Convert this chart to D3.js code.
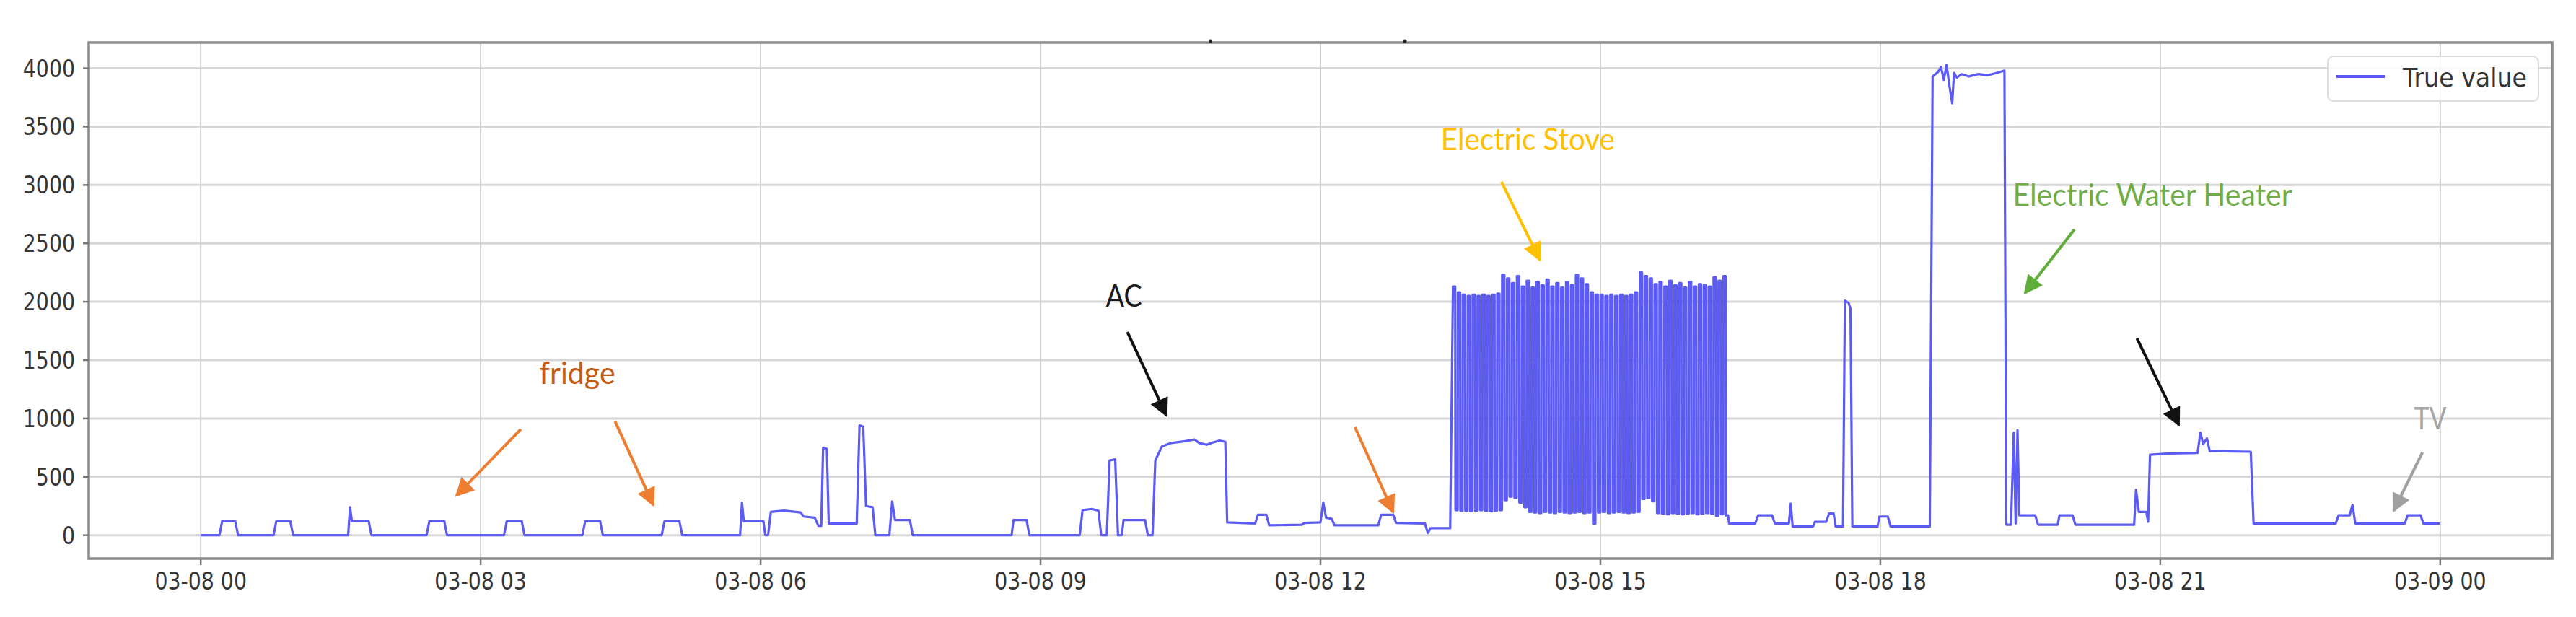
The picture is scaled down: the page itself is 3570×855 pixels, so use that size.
<!DOCTYPE html>
<html>
<head>
<meta charset="utf-8">
<title>True value</title>
<script src="https://d3js.org/d3.v7.min.js"></script>
<style>
  body { margin: 0; background: #fff; }
  .lbl { font-family: "DejaVu Sans", sans-serif; font-size: 33px; fill: #353535; }
  .note { font-family: Lato, "Open Sans", sans-serif; font-size: 42px; }
</style>
</head>
<body>
<svg id="chart" width="3570" height="855"></svg>
<script>
// breakpoints: hours after 03-08 00:00, power in W
var hours = [
  0.00, 0.20, 0.23, 0.37, 0.40, 0.78, 0.81, 0.96, 0.99, 1.58, 1.60, 1.62, 1.80, 1.83,
  2.42, 2.45, 2.61, 2.64, 3.25, 3.28, 3.44, 3.47, 4.09, 4.12, 4.28, 4.31, 4.94, 4.97,
  5.13, 5.16, 5.78, 5.80, 5.82, 6.03, 6.05, 6.08, 6.11, 6.25, 6.43, 6.46, 6.58, 6.62,
  6.65, 6.67, 6.71, 6.73, 7.00, 7.03, 7.06, 7.10, 7.13, 7.20, 7.23, 7.38, 7.41, 7.44,
  7.60, 7.63, 8.69, 8.71, 8.85, 8.88, 9.42, 9.45, 9.55, 9.62, 9.65, 9.71, 9.74, 9.80,
  9.83, 9.87, 9.89, 10.12, 10.15, 10.20, 10.23, 10.30, 10.40, 10.55, 10.65, 10.70, 10.78, 10.85,
  10.92, 10.98, 11.00, 11.30, 11.33, 11.42, 11.45, 11.80, 11.83, 12.00, 12.03, 12.06, 12.12, 12.15,
  12.62, 12.65, 12.78, 12.81, 13.12, 13.15, 13.18, 13.30, 13.39,
  16.38, 16.66, 16.69, 16.84, 16.87, 17.02, 17.04, 17.06, 17.28, 17.30, 17.42, 17.45, 17.50, 17.52,
  17.60, 17.62, 17.66, 17.68, 17.70, 17.97, 17.99, 18.08, 18.11, 18.53, 18.56, 18.62, 18.65, 18.68,
  18.71, 18.74, 18.77, 18.79, 18.82, 18.87, 18.95, 19.05, 19.15, 19.25, 19.33, 19.35, 19.40, 19.43,
  19.45, 19.47, 19.49, 19.51, 19.66, 19.69, 19.90, 19.92, 20.06, 20.09, 20.72, 20.74, 20.77, 20.85,
  20.87, 20.89, 21.10, 21.40, 21.43, 21.46, 21.50, 21.53, 21.97, 22.00, 22.88, 22.91, 23.03, 23.06,
  23.09, 23.62, 23.65, 23.79, 23.82, 24.00
];
var watts = [
  0, 0, 120, 120, 0, 0, 120, 120, 0, 0, 240, 120, 120, 0,
  0, 120, 120, 0, 0, 120, 120, 0, 0, 120, 120, 0, 0, 120,
  120, 0, 0, 280, 120, 120, 0, 0, 200, 210, 195, 160, 150, 80,
  80, 750, 740, 100, 100, 100, 940, 930, 250, 240, 0, 0, 290, 130,
  130, 0, 0, 130, 130, 0, 0, 215, 225, 210, 0, 0, 640, 650,
  0, 0, 130, 130, 0, 0, 640, 760, 790, 805, 820, 790, 775, 795,
  810, 800, 110, 100, 175, 175, 85, 90, 105, 110, 280, 150, 140, 85,
  85, 175, 175, 105, 100, 20, 60, 60, 60,
  100, 100, 170, 170, 100, 100, 270, 75, 75, 115, 115, 185, 185, 75,
  75, 2010, 1990, 1940, 75, 75, 160, 160, 75, 75, 3930, 3970, 4010, 3900,
  4030, 3850, 3700, 3960, 3920, 3950, 3930, 3950, 3940, 3960, 3980, 90, 90, 880,
  100, 900, 170, 170, 170, 90, 90, 170, 170, 90, 90, 390, 200, 200,
  115, 690, 700, 705, 880, 780, 830, 720, 715, 100, 100, 170, 170, 260,
  100, 100, 170, 170, 100, 100
];

// electric stove on/off cycling, one high and one low per cycle
var stoveStart = 13.42;
var stoveStep = 0.0527;
var stoveHigh = [
  2130, 2080, 2060, 2050, 2060, 2050, 2060, 2050, 2060, 2070,
  2230, 2200, 2160, 2220, 2130, 2180, 2120, 2170, 2140, 2190,
  2130, 2160, 2120, 2170, 2140, 2230, 2200, 2150, 2080, 2060,
  2060, 2050, 2060, 2050, 2060, 2050, 2060, 2080, 2250, 2220,
  2200, 2150, 2170, 2130, 2180, 2140, 2160, 2120, 2170, 2130,
  2150, 2140, 2130, 2210, 2180, 2220
];
var stoveLow = [
  215, 210, 210, 205, 210, 215, 210, 205, 210, 215,
  300, 330, 320, 280, 240, 200, 195, 190, 200, 195,
  190, 200, 195, 190, 195, 200, 190, 195, 100, 195,
  200, 190, 195, 200, 195, 190, 195, 200, 310, 320,
  290, 190, 185, 180, 190, 185, 180, 185, 190, 180,
  185, 190, 185, 165, 180, 170
];

var yTicks = [0, 500, 1000, 1500, 2000, 2500, 3000, 3500, 4000];
var seriesName = "True value";

// annotations, anchored in data units (hour, W)
var notes = [
  { text: "fridge", color: "#c55a11", h: 3.63, w: 1296, len: 105 },
  { text: "AC", color: "#1a1a1a", h: 9.70, w: 1957, len: 50 },
  { text: "Electric Stove", color: "#ffc000", h: 13.29, w: 3299, len: 241 },
  { text: "Electric Water Heater", color: "#70ad47", h: 19.42, w: 2823, len: 387 },
  { text: "TV", color: "#a5a5a5", h: 23.72, w: 907, len: 45 }
];
var arrows = [
  { color: "#ed7d31", h1: 3.43, w1: 907, h2: 2.74, w2: 338 },
  { color: "#ed7d31", h1: 4.44, w1: 975, h2: 4.85, w2: 258 },
  { color: "#ed7d31", h1: 12.37, w1: 925, h2: 12.78, w2: 196 },
  { color: "#111111", h1: 9.93, w1: 1741, h2: 10.35, w2: 1024 },
  { color: "#ffc000", h1: 13.94, w1: 3027, h2: 14.35, w2: 2359 },
  { color: "#5fae3a", h1: 20.08, w1: 2619, h2: 19.55, w2: 2075 },
  { color: "#111111", h1: 20.75, w1: 1686, h2: 21.20, w2: 944 },
  { color: "#a0a0a0", h1: 23.81, w1: 709, h2: 23.50, w2: 208 }
];

var svg = d3.select("#chart");
var lineColor = "#5c5cf4";
var day0 = new Date(2018, 2, 8, 0, 0);
function at(h) { return new Date(day0.getTime() + h * 3600e3); }

var x = d3.scaleTime()
  .domain([at(-1.2), at(25.2)])
  .range([123, 3537]);
var y = d3.scaleLinear()
  .domain([-200, 4220])
  .range([774, 59]);

// build the series
var pts = hours.map(function(h, i) { return [h, watts[i]]; });
stoveHigh.forEach(function(v, i) {
  var t = stoveStart + i * stoveStep;
  pts.push([t, v], [t + stoveStep * 0.45, v],
           [t + stoveStep * 0.5, stoveLow[i]], [t + stoveStep * 0.95, stoveLow[i]]);
});
pts.sort(function(a, b) { return a[0] - b[0]; });

// grid
var xt = x.ticks(d3.timeHour.every(3));
svg.append("g").selectAll("line").data(yTicks).enter().append("line")
  .attr("x1", 123).attr("x2", 3537)
  .attr("y1", function(d) { return y(d); }).attr("y2", function(d) { return y(d); })
  .attr("stroke", "#d6d6d6").attr("stroke-width", 3);
svg.append("g").selectAll("line").data(xt).enter().append("line")
  .attr("x1", function(d) { return x(d); }).attr("x2", function(d) { return x(d); })
  .attr("y1", 59).attr("y2", 774)
  .attr("stroke", "#cccccc").attr("stroke-width", 1.8);

// line
var line = d3.line()
  .x(function(d) { return x(at(d[0])); })
  .y(function(d) { return y(d[1]); });
svg.append("path")
  .datum(pts)
  .attr("d", line)
  .attr("fill", "none")
  .attr("stroke", lineColor)
  .attr("stroke-width", 3.2)
  .attr("stroke-linejoin", "round");

// frame
svg.append("rect")
  .attr("x", 123).attr("y", 59).attr("width", 3414).attr("height", 715)
  .attr("fill", "none").attr("stroke", "#8a8a8a").attr("stroke-width", 3.5);

// ticks + labels
var yAx = svg.append("g").selectAll("g").data(yTicks).enter().append("g")
  .attr("transform", function(d) { return "translate(0," + y(d) + ")"; });
yAx.append("line").attr("x1", 115).attr("x2", 123).attr("stroke", "#777").attr("stroke-width", 2.5);
yAx.append("text").attr("class", "lbl")
  .attr("transform", "translate(104,12) scale(0.86,1)")
  .attr("text-anchor", "end")
  .text(function(d) { return d; });

var fmt = d3.timeFormat("%m-%d %H");
var xAx = svg.append("g").selectAll("g").data(xt).enter().append("g")
  .attr("transform", function(d) { return "translate(" + x(d) + ",0)"; });
xAx.append("line").attr("y1", 774).attr("y2", 783).attr("stroke", "#777").attr("stroke-width", 2.5);
xAx.append("text").attr("class", "lbl")
  .attr("transform", "translate(0,817) scale(0.86,1)")
  .attr("text-anchor", "middle")
  .text(fmt);

// legend
var lg = svg.append("g");
lg.append("rect").attr("x", 3226).attr("y", 78).attr("width", 292).attr("height", 62)
  .attr("rx", 8).attr("fill", "#fff").attr("fill-opacity", 0.85)
  .attr("stroke", "#dddddd").attr("stroke-width", 2);
lg.append("line").attr("x1", 3238).attr("x2", 3305).attr("y1", 106).attr("y2", 106)
  .attr("stroke", lineColor).attr("stroke-width", 4);
lg.append("text").attr("class", "lbl").attr("x", 3330).attr("y", 120)
  .style("font-size", "35px").attr("textLength", 172).attr("lengthAdjust", "spacingAndGlyphs")
  .text(seriesName);

// annotations
var defs = svg.append("defs");
arrows.forEach(function(a, i) {
  defs.append("marker").attr("id", "ah" + i)
    .attr("viewBox", "0 0 10 10").attr("refX", 9).attr("refY", 5)
    .attr("markerUnits", "userSpaceOnUse")
    .attr("markerWidth", 28).attr("markerHeight", 26)
    .attr("orient", "auto")
    .append("path").attr("d", "M0,0 L10,5 L0,10 z").attr("fill", a.color);
});
svg.append("g").selectAll("line").data(arrows).enter().append("line")
  .attr("x1", function(d) { return x(at(d.h1)); })
  .attr("y1", function(d) { return y(d.w1); })
  .attr("x2", function(d) { return x(at(d.h2)); })
  .attr("y2", function(d) { return y(d.w2); })
  .attr("stroke", function(d) { return d.color; })
  .attr("stroke-width", 4)
  .attr("marker-end", function(d, i) { return "url(#ah" + i + ")"; });

svg.append("g").selectAll("text").data(notes).enter().append("text")
  .attr("class", "note")
  .attr("x", function(d) { return x(at(d.h)); })
  .attr("y", function(d) { return y(d.w); })
  .attr("fill", function(d) { return d.color; })
  .attr("textLength", function(d) { return d.len; })
  .attr("lengthAdjust", "spacingAndGlyphs")
  .text(function(d) { return d.text; });

// two small specks above the frame
svg.append("g").selectAll("circle").data([10.82, 12.905]).enter().append("circle")
  .attr("cx", function(d) { return x(at(d)); })
  .attr("cy", y(4232))
  .attr("r", 2.5).attr("fill", "#222");
</script>
</body>
</html>
